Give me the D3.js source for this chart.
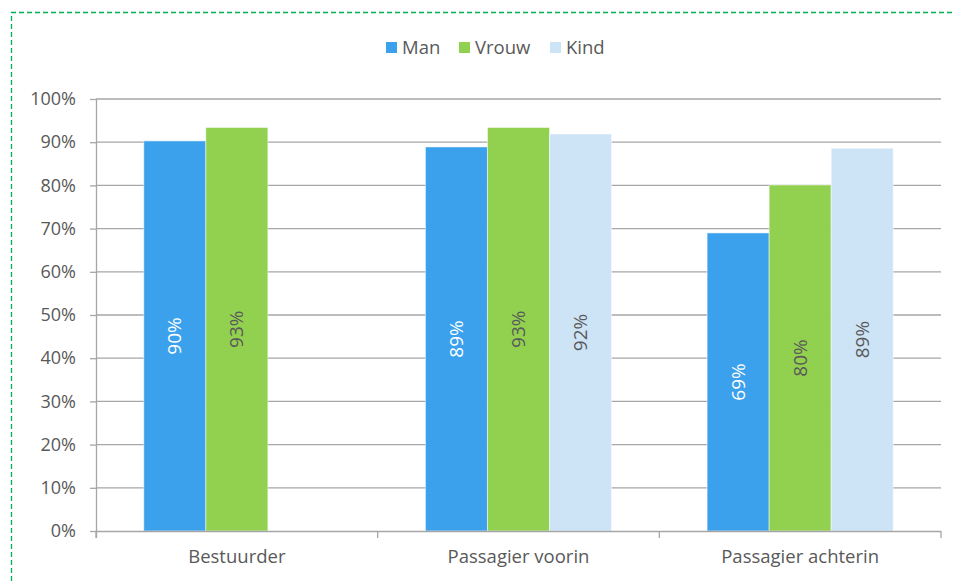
<!DOCTYPE html>
<html>
<head>
  <meta charset="UTF-8">
  <style>
    body { margin: 0; background: #fff; }
    svg { display: block; font-family: "Open Sans", Lato, sans-serif; }
  </style>
</head>
<body>
<svg></svg>
<script src="https://d3js.org/d3.v7.min.js"></script>
<script>

let width = 957, height = 581;

// data
const categories = ["Bestuurder", "Passagier voorin", "Passagier achterin"];
const seriesNames = ["Man", "Vrouw", "Kind"];
const man   = [90.3, 88.9, 69.0];
const vrouw = [93.4, 93.4, 80.1];
const kind  = [null, 91.9, 88.6];
const yTicks = [0, 10, 20, 30, 40, 50, 60, 70, 80, 90, 100];

const colors = ["#3ca1ec", "#92d050", "#cde3f6"];
const labelColors = ["#ffffff", "#595959", "#595959"];

const series = [man, vrouw, kind];

let svg = d3.select("svg")
    .attr("width", width)
    .attr("height", height);

// dashed frame
svg.append("path")
    .attr("d", "M11.5,581 L11.5,12.5 L955,12.5")
    .attr("fill", "none")
    .attr("stroke", "#00b050")
    .attr("stroke-width", 1.3)
    .attr("stroke-dasharray", "5,3");

const margin = {left: 96, right: 16, top: 99, bottom: 50};
const plotW = width - margin.left - margin.right;
const plotH = height - margin.top - margin.bottom;

let x = d3.scaleBand()
    .domain(categories)
    .range([margin.left, margin.left + plotW]);

let x1 = d3.scaleBand()
    .domain(seriesNames)
    .range([0, x.bandwidth()])
    .paddingOuter(0.77);

let y = d3.scaleLinear()
    .domain([0, 100])
    .range([margin.top + plotH, margin.top]);

// gridlines
svg.append("g")
  .selectAll("line")
  .data(yTicks.slice(1))
  .enter()
  .append("line")
    .attr("x1", margin.left)
    .attr("x2", margin.left + plotW)
    .attr("y1", d => y(d))
    .attr("y2", d => y(d))
    .attr("stroke", "#a6a6a6")
    .attr("stroke-width", 1.3);

// bars
let groups = svg.append("g")
  .selectAll("g")
  .data(categories)
  .enter()
  .append("g")
    .attr("transform", d => `translate(${x(d)},0)`);

let cells = groups.selectAll("g")
  .data((c, i) => seriesNames.map((s, j) => ({s: s, j: j, v: series[j][i]})).filter(d => d.v != null))
  .enter()
  .append("g");

cells.append("rect")
    .attr("x", d => x1(d.s))
    .attr("width", x1.bandwidth())
    .attr("y", d => y(d.v))
    .attr("height", d => y(0) - y(d.v))
    .attr("fill", d => colors[d.j])
    .attr("stroke", "#ffffff")
    .attr("stroke-opacity", 0.5)
    .attr("stroke-width", 1);

cells.append("text")
    .attr("transform", d => `translate(${x1(d.s) + x1.bandwidth() / 2},${(y(d.v) + y(0)) / 2}) rotate(-90)`)
    .attr("text-anchor", "middle")
    .attr("dy", "0.35em")
    .attr("font-size", 19)
    .attr("fill", d => labelColors[d.j])
    .text(d => Math.round(d.v) + "%");

// y axis
let yAxis = svg.append("g")
    .attr("transform", `translate(${margin.left},0)`)
    .call(d3.axisLeft(y).tickValues(yTicks).tickFormat(d => d + "%").tickSize(6).tickPadding(14));
yAxis.attr("font-family", null).attr("font-size", 18);

// x axis
let xAxis = svg.append("g")
    .attr("transform", `translate(0,${y(0)})`)
    .call(d3.axisBottom(x).tickSize(0).tickPadding(19));
xAxis.attr("font-family", null).attr("font-size", 18.5);

xAxis.append("g")
  .selectAll("line")
  .data([0, 1, 2, 3])
  .enter()
  .append("line")
    .attr("x1", d => margin.left + d * x.step())
    .attr("x2", d => margin.left + d * x.step())
    .attr("y1", 0)
    .attr("y2", 7)
    .attr("stroke", "#a6a6a6")
    .attr("stroke-width", 1.3);

svg.selectAll(".domain, .tick line")
    .attr("stroke", "#a6a6a6")
    .attr("stroke-width", 1.3);
xAxis.select(".domain").attr("d", `M${margin.left},0.5H${margin.left + plotW}`);
yAxis.select(".domain").attr("d", `M0.5,${margin.top}V${y(0) + 7}`);
svg.selectAll(".tick text").attr("fill", "#595959");

// legend
let legend = svg.append("g").attr("transform", "translate(386,48)");
const legendX = [0, 73, 164];
seriesNames.forEach((s, i) => {
  legend.append("rect")
      .attr("x", legendX[i])
      .attr("y", -6)
      .attr("width", 11)
      .attr("height", 11)
      .attr("fill", colors[i]);
  legend.append("text")
      .attr("x", legendX[i] + 16)
      .attr("y", 0)
      .attr("dy", "0.35em")
      .attr("font-size", 18.5)
      .attr("fill", "#595959")
      .text(s);
});

</script>
</body>
</html>
